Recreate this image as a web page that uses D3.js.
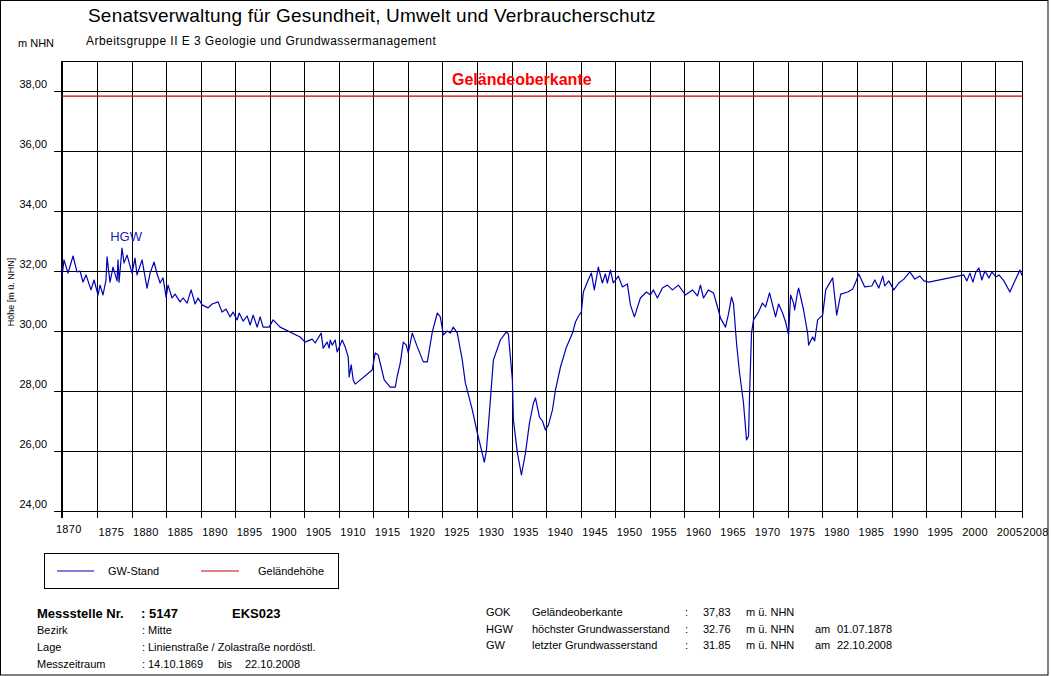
<!DOCTYPE html>
<html>
<head>
<meta charset="utf-8">
<script src="https://cdn.jsdelivr.net/npm/d3@7"></script>
<style>
  body { margin: 0; background: #fff; }
  svg text { font-family: "Liberation Sans", Arial, sans-serif; }
</style>
</head>
<body>
<div class="chartDiv"></div>
<script>
(function(){
  // data (year, m NHN)
  var gwYears = [1869.86,1870.15,1870.73,1871.46,1872.03,1872.47,1872.9,1873.34,1874.06,1874.5,
    1875.08,1875.37,1875.8,1876.23,1876.38,1876.81,1877.25,1877.83,1877.97,1878.12,
    1878.55,1878.84,1879.28,1880.0,1880.43,1880.72,1881.45,1882.17,1882.61,1883.19,
    1883.62,1884.06,1884.49,1884.93,1885.21,1885.79,1886.23,1886.95,1887.39,1887.97,
    1888.55,1889.13,1889.56,1890.14,1891.01,1891.6,1892.46,1893.03,1893.61,1894.19,
    1894.63,1895.21,1895.5,1896.08,1896.66,1897.09,1897.53,1898.11,1898.54,1898.97,
    1899.84,1900.42,1901.43,1904.33,1905.05,1906.07,1906.5,1907.37,1907.66,1908.24,
    1908.53,1908.68,1908.97,1909.4,1909.69,1910.42,1910.85,1911.29,1911.43,1911.72,
    1912.01,1912.3,1914.76,1915.2,1915.63,1916.5,1917.37,1918.1,1918.39,1918.82,
    1919.26,1919.69,1919.98,1920.56,1921.29,1922.16,1922.74,1923.46,1924.19,1924.62,
    1925.06,1925.64,1926.07,1926.5,1927.08,1927.8,1928.24,1929.25,1929.98,1930.99,
    1931.28,1931.72,1932.3,1933.31,1934.18,1934.47,1935.05,1935.2,1935.78,1936.36,
    1936.94,1937.52,1938.1,1938.39,1938.97,1939.4,1939.84,1940.27,1940.85,1941.28,
    1942.01,1942.88,1943.75,1944.18,1944.62,1945.03,1945.32,1945.9,1946.48,1946.91,
    1947.49,1948.07,1948.51,1948.8,1949.23,1949.66,1950.39,1950.97,1951.69,1952.13,
    1952.71,1953.58,1954.45,1955.03,1955.46,1956.04,1956.76,1957.49,1958.21,1959.08,
    1960.1,1961.11,1961.84,1962.27,1962.71,1963.43,1964.16,1964.74,1965.17,1965.9,
    1966.33,1966.77,1967.06,1967.49,1967.93,1968.5,1968.94,1969.23,1969.37,1969.66,
    1969.95,1970.67,1971.25,1971.69,1972.27,1973.14,1973.58,1974.16,1974.59,1975.03,
    1975.32,1975.75,1975.9,1976.33,1976.48,1977.2,1977.78,1977.93,1978.51,1978.8,
    1979.23,1979.96,1980.4,1981.41,1981.99,1982.57,1983.59,1984.31,1984.75,1985.18,
    1986.05,1987.07,1987.5,1988.08,1988.66,1988.95,1989.53,1990.26,1990.98,1991.71,
    1992.58,1993.3,1994.03,1994.61,1995.33,2000.4,2000.83,2001.27,2001.7,2002.14,
    2002.57,2003.0,2003.44,2004.02,2004.45,2005.03,2005.47,2006.19,2007.06,2007.64,
    2008.51,2008.81];
  var gwLevels = [31.8,32.37,31.93,32.5,31.97,32.0,31.63,31.87,31.37,31.7,
    31.2,31.53,31.2,31.7,32.47,31.63,32.13,31.67,32.37,31.63,
    32.76,32.27,32.53,31.93,32.43,31.87,32.37,31.43,31.93,32.3,
    31.9,31.6,31.77,31.13,31.53,31.1,31.23,30.97,31.1,30.93,
    31.37,30.9,31.1,30.87,30.77,30.9,30.97,30.63,30.73,30.47,
    30.63,30.37,30.6,30.33,30.5,30.2,30.53,30.13,30.47,30.13,
    30.13,30.37,30.13,29.8,29.63,29.73,29.6,29.93,29.43,29.63,
    29.43,29.7,29.53,29.7,29.3,29.7,29.47,29.13,28.47,28.87,
    28.37,28.23,28.7,29.27,29.2,28.37,28.13,28.13,28.5,28.93,
    29.63,29.53,29.27,29.93,29.47,28.97,28.97,29.97,30.6,30.47,
    29.87,30.0,29.93,30.13,29.93,29.03,28.27,27.37,26.6,25.63,
    26.0,27.27,29.03,29.7,29.97,29.9,28.37,27.03,25.93,25.2,
    25.93,26.93,27.6,27.77,27.13,27.0,26.7,26.87,27.37,28.03,
    28.8,29.47,29.93,30.3,30.5,30.63,31.3,31.63,31.93,31.37,
    32.13,31.6,31.9,31.6,32.03,31.6,31.83,31.47,31.57,30.87,
    30.47,31.1,31.3,31.2,31.37,31.1,31.43,31.53,31.37,31.53,
    31.2,31.37,31.17,31.53,31.1,31.37,31.27,30.8,30.43,30.13,
    30.57,31.13,30.9,29.6,28.6,27.6,26.37,26.5,27.8,29.93,
    30.37,30.63,30.93,30.8,31.27,30.47,30.9,30.6,30.3,29.87,
    31.2,30.93,30.7,31.3,31.43,30.7,29.93,29.53,29.8,29.67,
    30.37,30.53,31.37,31.77,30.53,31.23,31.3,31.4,31.63,31.9,
    31.47,31.5,31.7,31.43,31.83,31.5,31.67,31.37,31.6,31.73,
    31.97,31.73,31.83,31.67,31.63,31.87,31.67,31.93,31.63,31.97,
    32.1,31.7,32.0,31.77,31.97,31.8,31.87,31.67,31.3,31.6,
    32.03,31.85];

  var gokLevel   = 37.83;
  var hgwPoint   = [1878.55, 32.76];
  var startYear  = 1869.79,   // 14.10.1869
      endYear    = 2008.81;   // 22.10.2008
  var xTickYears = [1870,1875,1880,1885,1890,1895,1900,1905,1910,1915,1920,1925,1930,1935,
                    1940,1945,1950,1955,1960,1965,1970,1975,1980,1985,1990,1995,2000,2005];
  var yTickValues = [24,26,28,30,32,34,36,38];

  var legendItems = [{label: "GW-Stand", color: "#0000b4"}, {label: "Geländehöhe", color: "#cc0000"}];
  // footer rows: [text, x]
  var infoLeft = [
    [["Bezirk", 37], [":", 142], ["Mitte", 148]],
    [["Lage", 37], [":", 142], ["Linienstraße / Zolastraße nordöstl.", 148]],
    [["Messzeitraum", 37], [":", 142], ["14.10.1869", 148], ["bis", 218], ["22.10.2008", 245]]
  ];
  var infoRight = [
    ["GOK", "Geländeoberkante", ":", "37,83", "m ü. NHN", "", ""],
    ["HGW", "höchster Grundwasserstand", ":", "32.76", "m ü. NHN", "am", "01.07.1878"],
    ["GW", "letzter Grundwasserstand", ":", "31.85", "m ü. NHN", "am", "22.10.2008"]
  ];

  //d3 preamble
  var width  = 1051,
      height = 676,
      plot   = {left: 61.5, right: 1022, top: 61, bottom: 511};

  var svg = d3.select(".chartDiv").append("svg")
              .attr("width", width).attr("height", height);

  svg.append("rect").attr("x", 0).attr("y", 0).attr("width", width).attr("height", height).attr("fill", "#fff");
  // outer frame
  svg.append("rect").attr("x", 0.5).attr("y", 0.5).attr("width", 1047.5).attr("height", 674.5)
     .attr("fill", "none").attr("stroke", "#000");

  var x = d3.scaleLinear().domain([startYear, endYear]).range([plot.left, plot.right]);
  var y = d3.scaleLinear().domain([24, 39]).range([plot.bottom, plot.top]);

  // header
  svg.append("text").attr("x", 88).attr("y", 22).attr("font-size", "19px").attr("letter-spacing", "0.2px")
     .text("Senatsverwaltung für Gesundheit, Umwelt und Verbraucherschutz");
  svg.append("text").attr("x", 86).attr("y", 45).attr("font-size", "12px").attr("letter-spacing", "0.45px")
     .text("Arbeitsgruppe II E 3 Geologie und Grundwassermanagement");
  svg.append("text").attr("x", 18).attr("y", 47).attr("font-size", "11px").text("m NHN");

  //grid
  var grid = svg.append("g").attr("stroke", "#000").attr("stroke-width", 1).attr("shape-rendering", "crispEdges");
  grid.selectAll(".hline").data(yTickValues).enter().append("line")
      .attr("x1", 54).attr("x2", plot.right)
      .attr("y1", function(d){ return y(d); }).attr("y2", function(d){ return y(d); });
  grid.selectAll(".vline").data(xTickYears).enter().append("line")
      .attr("x1", function(d){ return x(d); }).attr("x2", function(d){ return x(d); })
      .attr("y1", plot.top).attr("y2", plot.bottom + 7);
  grid.append("line").attr("x1", plot.left).attr("x2", plot.right).attr("y1", plot.top).attr("y2", plot.top);
  grid.append("line").attr("x1", plot.left).attr("x2", plot.left).attr("y1", plot.top).attr("y2", plot.bottom + 7);
  grid.append("line").attr("x1", plot.right).attr("x2", plot.right).attr("y1", plot.top).attr("y2", plot.bottom + 7);

  // axis labels
  svg.selectAll(".ylab").data(yTickValues).enter().append("text")
     .attr("x", 47).attr("y", function(d){ return y(d) - 3; })
     .attr("text-anchor", "end").attr("font-size", "11px")
     .text(function(d){ return d3.format(".2f")(d).replace(".", ","); });
  svg.selectAll(".xlab").data(xTickYears).enter().append("text")
     .attr("x", function(d){ return d === 1870 ? x(d) - 7 : x(d) + 1; })
     .attr("y", function(d){ return d === 1870 ? 533 : 536; })
     .attr("font-size", "11px").attr("letter-spacing", "0.3px")
     .text(function(d){ return d; });
  svg.append("text").attr("x", x(endYear) + 1).attr("y", 536).attr("font-size", "11px")
     .attr("letter-spacing", "0.3px").text("2008");
  svg.append("text").attr("transform", "translate(14,292) rotate(-90)")
     .attr("text-anchor", "middle").attr("font-size", "9px").text("Höhe  [m ü. NHN]");

  // ground level
  svg.append("line").attr("x1", plot.left).attr("x2", plot.right)
     .attr("y1", y(gokLevel)).attr("y2", y(gokLevel))
     .attr("stroke", legendItems[1].color).attr("stroke-width", 1.2);
  svg.append("text").attr("x", 452).attr("y", 85).attr("font-size", "16px").attr("font-weight", "bold")
     .attr("fill", "#ff0000").text("Geländeoberkante");

  // groundwater series
  var gwData = gwYears.map(function(d, i){ return [d, gwLevels[i]]; });
  var line = d3.line().x(function(d){ return x(d[0]); }).y(function(d){ return y(d[1]); });
  svg.append("path").datum(gwData).attr("d", line)
     .attr("fill", "none").attr("stroke", legendItems[0].color).attr("stroke-width", 1.2)
     .attr("stroke-linejoin", "round");

  svg.append("text").attr("x", x(hgwPoint[0]) + 4).attr("y", y(hgwPoint[1]) - 7)
     .attr("text-anchor", "middle").attr("font-size", "13px").attr("fill", "#1a1ab4").text("HGW");

  //legend
  svg.append("rect").attr("x", 44.5).attr("y", 553.5).attr("width", 294).attr("height", 35)
     .attr("fill", "none").attr("stroke", "#000");
  var legendX = [[57, 94, 108], [201, 239, 258]];
  legendItems.forEach(function(item, i){
    svg.append("line").attr("x1", legendX[i][0]).attr("x2", legendX[i][1]).attr("y1", 571).attr("y2", 571)
       .attr("stroke", item.color).attr("stroke-width", 1.2);
    svg.append("text").attr("x", legendX[i][2]).attr("y", 575).attr("font-size", "11px").text(item.label);
  });

  //footer
  svg.append("text").attr("x", 37).attr("y", 618).attr("font-size", "13px").attr("font-weight", "bold").text("Messstelle Nr.");
  svg.append("text").attr("x", 141).attr("y", 618).attr("font-size", "13px").attr("font-weight", "bold").text(": 5147");
  svg.append("text").attr("x", 232).attr("y", 618).attr("font-size", "13px").attr("font-weight", "bold").text("EKS023");
  infoLeft.forEach(function(row, i){
    var by = 634 + i * 17;
    row.forEach(function(cell){
      svg.append("text").attr("x", cell[1]).attr("y", by).attr("font-size", "11px").text(cell[0]);
    });
  });
  var colX = [486, 532, 685, 703, 746, 815, 837];
  infoRight.forEach(function(row, i){
    var by = 616 + i * 16.5;
    row.forEach(function(cell, j){
      if(cell){
        svg.append("text").attr("x", colX[j]).attr("y", by).attr("font-size", "11px").text(cell);
      }
    });
  });
})()
</script>
</body>
</html>
